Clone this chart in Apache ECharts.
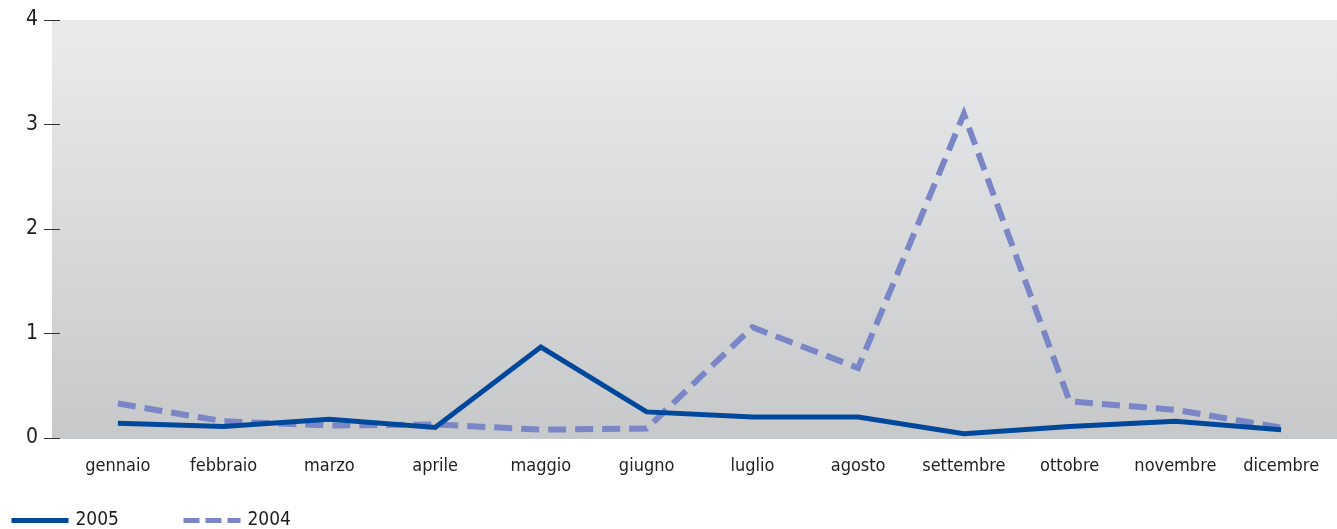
<!DOCTYPE html>
<html>
<head>
<meta charset="utf-8">
<script src="https://cdn.jsdelivr.net/npm/echarts@6/dist/echarts.min.js"></script>
<style>
  html, body { margin: 0; padding: 0; background: #fff; }
  #chart { width: 1337px; height: 529px; }
</style>
</head>
<body>
<div id="chart"></div>
<script>
// Monthly values for the two years
const months = ['gennaio', 'febbraio', 'marzo', 'aprile', 'maggio', 'giugno',
                'luglio', 'agosto', 'settembre', 'ottobre', 'novembre', 'dicembre'];
const values2005 = [0.14, 0.11, 0.18, 0.10, 0.87, 0.25, 0.20, 0.20, 0.04, 0.11, 0.16, 0.08];
const values2004 = [0.33, 0.16, 0.12, 0.13, 0.08, 0.09, 1.06, 0.67, 3.10, 0.35, 0.27, 0.10];
const yTicks = [0, 1, 2, 3, 4];

const FONT = '"DejaVu Sans Condensed", "DejaVu Sans", sans-serif';
const COLOR_2005 = '#00489b';
const COLOR_2004 = '#7a86c6';

const chart = echarts.init(document.getElementById('chart'));
chart.setOption({
  animation: false,
  textStyle: { fontFamily: FONT, color: '#1e1e1e' },
  graphic: [{
    type: 'rect',
    z: -10,
    shape: { x: 52, y: 20, width: 1285, height: 419 },
    style: {
      fill: new echarts.graphic.LinearGradient(0, 0, 0, 1, [
        { offset: 0, color: '#eaebed' },
        { offset: 1, color: '#c7c8ca' }
      ])
    }
  }],
  grid: { left: 65, right: 3, top: 20, bottom: 91 },
  xAxis: {
    type: 'category',
    data: months,
    boundaryGap: true,
    axisLine: { show: false },
    axisTick: { show: false },
    axisLabel: { interval: 0, margin: 19, fontSize: 18, color: '#1e1e1e', fontFamily: FONT }
  },
  yAxis: {
    type: 'value',
    min: yTicks[0],
    max: yTicks[yTicks.length - 1],
    interval: 1,
    offset: 5,
    splitLine: { show: false },
    axisLine: { show: false },
    axisTick: { show: true, length: 16, lineStyle: { color: '#333', width: 1 } },
    axisLabel: { margin: 22, fontSize: 21, color: '#1e1e1e', fontFamily: FONT, padding: [3, 0, 0, 0] }
  },
  legend: {
    left: 9,
    top: 511,
    padding: 0,
    itemWidth: 57,
    itemHeight: 10,
    itemGap: 62,
    textStyle: { fontSize: 19, color: '#1e1e1e', fontFamily: FONT, padding: [0, 0, 0, 2] },
    data: [
      { name: '2005', itemStyle: { opacity: 0 }, lineStyle: { color: COLOR_2005, width: 5, type: 'solid' } },
      { name: '2004', itemStyle: { opacity: 0 }, lineStyle: { color: COLOR_2004, width: 5, type: [16, 6] } }
    ]
  },
  series: [
    {
      name: '2004',
      type: 'line',
      data: values2004,
      symbol: 'none',
      z: 2,
      lineStyle: { color: COLOR_2004, width: 6, type: [18, 9], join: 'miter' },
      itemStyle: { color: COLOR_2004 }
    },
    {
      name: '2005',
      type: 'line',
      data: values2005,
      symbol: 'none',
      z: 3,
      lineStyle: { color: COLOR_2005, width: 5, join: 'miter' },
      itemStyle: { color: COLOR_2005 }
    }
  ]
});
</script>
</body>
</html>
